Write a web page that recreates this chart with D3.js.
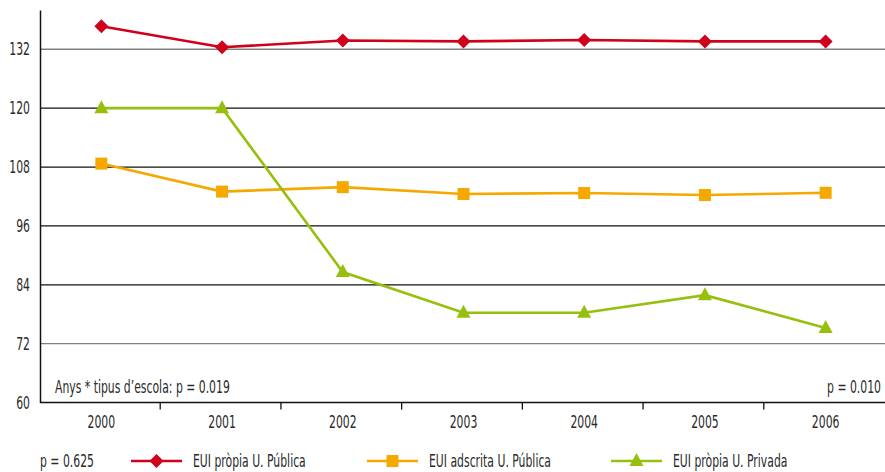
<!DOCTYPE html>
<html><head><meta charset="utf-8">
<script src="https://cdn.jsdelivr.net/npm/d3@7"></script>
<style>
body{margin:0;background:#fff;}
text{font-family:'DejaVu Sans Condensed','DejaVu Sans',sans-serif;fill:#2a2a2a;}
</style></head>
<body><svg id="c" width="885" height="472"></svg>
<script>
const years = ["2000","2001","2002","2003","2004","2005","2006"];
const yTicks = [60,72,84,96,108,120,132];
const seriesNames = ["EUI pròpia U. Pública","EUI adscrita U. Pública","EUI pròpia U. Privada"];
const seriesColors = ["#d0021b","#f5a800","#97bf0d"];
const seriesSymbols = ["diamond","square","triangle"];
const redVals = [136.7,132.4,133.8,133.6,133.9,133.6,133.6];
const orangeVals = [108.7,103.0,103.9,102.5,102.7,102.3,102.75];
const greenVals = [120,120,86.6,78.3,78.3,81.9,75.2];
const noteLeft = "Anys * tipus d\u2019escola: p = 0.019";
const noteRight = "p = 0.010";
const noteLegend = "p = 0.625";

const svg = d3.select("#c");
const x = d3.scaleBand().domain(years).range([41,886]).padding(0);
const y = d3.scaleLinear().domain([60,140]).range([402.6,10]);
const fs = 17, sx = 0.71;

function label(px, py, txt, anchor){
  return svg.append("text").attr("transform","translate("+px+","+py+") scale("+sx+",1)")
    .attr("text-anchor",anchor||"start").style("font-size",fs+"px").text(txt);
}

// gridlines
svg.append("g").selectAll("line").data(yTicks.filter(d=>d>60)).join("line")
  .attr("x1",40).attr("x2",885).attr("y1",d=>y(d)).attr("y2",d=>y(d))
  .attr("stroke",d=>(d===132||d===72)?"#808080":"#111").attr("stroke-width",1.3);

// y axis
const ya = svg.append("g").attr("transform","translate(40,0)")
  .call(d3.axisLeft(y).tickValues(yTicks).tickSize(0).tickPadding(10/sx));
ya.select(".domain").attr("stroke","#111").attr("stroke-width",1.5);
ya.selectAll("text").attr("transform","scale("+sx+",1)")
  .style("font-family","'DejaVu Sans Condensed','DejaVu Sans',sans-serif").style("font-size",fs+"px").attr("fill","#2a2a2a");

// x axis
const xa = svg.append("g").attr("transform","translate(0,"+y(60)+")")
  .call(d3.axisBottom(x).tickSize(0).tickPadding(13));
xa.select(".domain").attr("d","M40,0H885").attr("stroke","#111").attr("stroke-width",1.5);
xa.selectAll("text").attr("transform","scale("+sx+",1)")
  .style("font-family","'DejaVu Sans Condensed','DejaVu Sans',sans-serif").style("font-size",fs+"px").attr("fill","#2a2a2a");
svg.append("g").selectAll("line").data(years.slice(1)).join("line")
  .attr("x1",d=>x(d)-1.5).attr("x2",d=>x(d)-1.5).attr("y1",y(60)).attr("y2",y(60)+7)
  .attr("stroke","#111").attr("stroke-width",1.3);

// notes
label(55,393,noteLeft);
label(881,393,noteRight,"end");

function symPath(kind){
  if(kind==="diamond") return "M0,-7L7,0L0,7L-7,0Z";
  if(kind==="square") return "M-6,-6H6V6H-6Z";
  return "M0,-8L7,5L-7,5Z";
}

const allVals = [redVals,orangeVals,greenVals];
const line = d3.line().x((d,i)=>x(years[i])+x.bandwidth()/2).y(d=>y(d));
allVals.forEach((vals,k)=>{
  const g = svg.append("g");
  g.append("path").datum(vals).attr("d",line).attr("fill","none")
    .attr("stroke",seriesColors[k]).attr("stroke-width",2.6);
  g.selectAll("path.m").data(vals).join("path").attr("class","m")
    .attr("transform",(d,i)=>"translate("+(x(years[i])+x.bandwidth()/2)+","+y(d)+")")
    .attr("d",symPath(seriesSymbols[k])).attr("fill",seriesColors[k]);
});

// legend
label(40,467,noteLegend);
const legX = [131,367,611];
seriesNames.forEach((n,k)=>{
  const g = svg.append("g").attr("transform","translate("+legX[k]+",461)");
  g.append("line").attr("x1",0).attr("x2",51).attr("stroke",seriesColors[k]).attr("stroke-width",2.6);
  g.append("path").attr("transform","translate(25.5,0)").attr("d",symPath(seriesSymbols[k])).attr("fill",seriesColors[k]);
  label(legX[k]+62,467,n);
});
</script></body></html>
